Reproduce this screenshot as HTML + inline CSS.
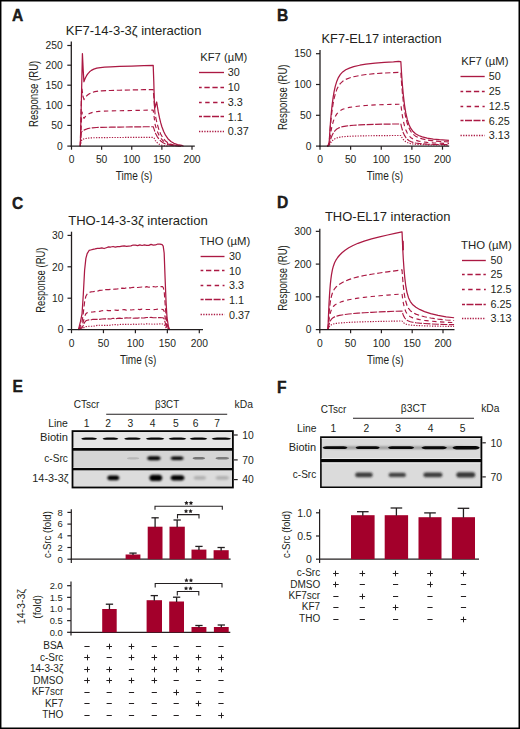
<!DOCTYPE html>
<html><head><meta charset="utf-8"><title>Figure</title>
<style>html,body{margin:0;padding:0;background:#fff;width:520px;height:729px;overflow:hidden}svg{display:block}text{font-family:"Liberation Sans",sans-serif}</style>
</head><body>
<svg width="520" height="729" viewBox="0 0 520 729" font-family='&quot;Liberation Sans&quot;, sans-serif' fill="#231f20">
<defs><filter id="bl" x="-50%" y="-100%" width="200%" height="300%"><feGaussianBlur stdDeviation="0.7"/></filter><filter id="bl15" x="-50%" y="-100%" width="200%" height="300%"><feGaussianBlur stdDeviation="0.9"/></filter><filter id="bl2" x="-50%" y="-100%" width="200%" height="300%"><feGaussianBlur stdDeviation="1.1"/></filter><linearGradient id="gF1" x1="0" x2="1" y1="0" y2="0"><stop offset="0" stop-color="#dadada"/><stop offset="1" stop-color="#dadada"/></linearGradient></defs>
<rect x="0" y="0" width="520" height="729" fill="#fff"/>
<text x="12" y="20.8" font-size="15.6" font-weight="bold" stroke="#000" stroke-width="0.35">A</text>
<text x="65.8" y="35" font-size="13" textLength="135.6" lengthAdjust="spacingAndGlyphs">KF7-14-3-3ζ interaction</text>
<text x="115.8" y="180.4" font-size="12.4" textLength="36.6" lengthAdjust="spacingAndGlyphs">Time (s)</text>
<text x="38.4" y="93.85" font-size="12.8" text-anchor="middle" textLength="66.3" lengthAdjust="spacingAndGlyphs" transform="rotate(-90 38.4 93.85)" fill="#231f20">Response (RU)</text>
<text x="200.3" y="61" font-size="11.6" textLength="46.9" lengthAdjust="spacingAndGlyphs">KF7 (µM)</text>
<line x1="199" y1="72.5" x2="224" y2="72.5" stroke="#ab1943" stroke-width="1.35"/>
<text x="227.8" y="76.4" font-size="10.8">30</text>
<line x1="199" y1="87.5" x2="224" y2="87.5" stroke="#ab1943" stroke-width="1.45" stroke-dasharray="5.3 2.7" stroke-dashoffset="2.6"/>
<text x="227.8" y="91.2" font-size="10.8">10</text>
<line x1="199" y1="102.5" x2="224" y2="102.5" stroke="#ab1943" stroke-width="1.35" stroke-dasharray="4.4 3.5" stroke-dashoffset="1.7"/>
<text x="227.8" y="105.9" font-size="10.8">3.3</text>
<line x1="199" y1="116.5" x2="224" y2="116.5" stroke="#ab1943" stroke-width="1.5" stroke-dasharray="7 1.5" stroke-dashoffset="4"/>
<text x="227.8" y="120.5" font-size="10.8">1.1</text>
<line x1="199" y1="131.5" x2="224" y2="131.5" stroke="#ab1943" stroke-width="1.6" stroke-dasharray="1.3 1.34" stroke-dashoffset="0"/>
<text x="227.8" y="135.3" font-size="10.8">0.37</text>
<path d="M80.3 146.2 L81.44 97.86 L82.41 53.56 L83.19 69.67 L83.91 81.75 L84.45 80.23 L85.36 78.04 L86.56 75.68 L87.77 73.84 L89.58 71.8 L91.38 70.37 L93.79 69.11 L96.81 68.17 L100.42 67.54 L104.64 67.14 L110.66 66.81 L119.7 66.47 L131.75 66.08 L143.8 65.69 L153.2 65.39 L153.8 81.75 L154.34 101.89 L154.65 108.42 L155.25 106.73 L156.09 103.5 L156.69 102.01 L157.36 106.41 L158.26 111.7 L159.47 117.69 L160.67 122.63 L161.88 126.72 L163.68 131.56 L165.49 135.2 L167.9 138.68 L170.91 141.53 L173.93 143.3 L177.54 144.56 L181.76 145.36 L183.56 146.2" fill="none" stroke="#ab1943" stroke-width="1.25" stroke-linejoin="round"/>
<path d="M80.3 146.2 L81.32 101.89 L81.98 89 L82.95 95.85 L83.97 99.6 L84.57 98.57 L85.48 97.26 L86.38 96.16 L87.59 94.98 L89.39 93.67 L91.8 92.52 L94.82 91.67 L99.03 91.05 L101.62 90.84 L110.66 90.45 L119.7 90.22 L131.75 89.95 L143.8 89.69 L153.2 89.48 L154.16 101.53 L155.01 113.57 L155.85 118.04 L157.06 123.39 L158.86 129.57 L160.67 134.07 L163.08 138.24 L165.49 140.97 L167.9 142.77 L171.51 144.38 L175.13 145.23 L178.75 145.68 L181.16 146.2" fill="none" stroke="#ab1943" stroke-width="1.15" stroke-linejoin="round" stroke-dasharray="5.3 2.7"/>
<path d="M80.3 146.2 L81.32 122.03 L82.04 111.96 L82.95 115.59 L83.97 118.41 L84.57 117.57 L85.48 116.49 L86.38 115.59 L87.59 114.62 L89.39 113.54 L91.8 112.6 L94.82 111.9 L99.03 111.39 L101.62 111.21 L110.66 110.9 L119.7 110.71 L131.75 110.49 L143.8 110.27 L153.2 110.1 L154.16 117.08 L155.01 124.05 L155.85 127.08 L157.06 130.71 L158.86 134.91 L160.67 137.96 L163.08 140.79 L165.49 142.65 L167.9 143.87 L171.51 144.96 L175.13 145.54 L178.75 145.85 L181.16 146.2" fill="none" stroke="#ab1943" stroke-width="1.15" stroke-linejoin="round" stroke-dasharray="4.4 3.5"/>
<path d="M80.3 146.2 L80.9 136.13 L81.44 132.1 L82.04 131.55 L82.95 130.84 L83.85 130.25 L85.06 129.62 L86.86 128.91 L89.27 128.3 L92.29 127.84 L96.5 127.51 L101.62 127.32 L110.66 127.17 L119.7 127.06 L131.75 126.93 L143.8 126.8 L153.2 126.7 L154.16 129.4 L155.01 132.1 L155.85 134.03 L157.06 136.34 L158.86 139.01 L160.67 140.96 L163.08 142.76 L165.49 143.94 L167.9 144.72 L171.51 145.41 L175.13 145.78 L178.75 145.98 L181.16 146.2" fill="none" stroke="#ab1943" stroke-width="1.15" stroke-linejoin="round" stroke-dasharray="7 1.5"/>
<path d="M80.3 146.2 L81.26 141.37 L81.98 139.51 L82.59 139.29 L83.49 139.01 L84.39 138.78 L85.6 138.53 L87.41 138.24 L89.82 138 L92.83 137.81 L97.05 137.68 L101.62 137.6 L110.66 137.53 L119.7 137.48 L131.75 137.41 L143.8 137.35 L153.2 137.3 L154.04 138.01 L155.25 140.33 L156.45 142 L158.26 143.65 L160.07 144.65 L161.88 145.26 L164.29 145.72 L166.69 145.95 L169.11 146.2" fill="none" stroke="#ab1943" stroke-width="1.15" stroke-linejoin="round" stroke-dasharray="1.3 1.34"/>
<text x="277" y="21.25" font-size="15.6" font-weight="bold" stroke="#000" stroke-width="0.35">B</text>
<text x="321.6" y="42.7" font-size="13" textLength="120" lengthAdjust="spacingAndGlyphs">KF7-EL17 interaction</text>
<text x="366.8" y="179.8" font-size="12.4" textLength="36.4" lengthAdjust="spacingAndGlyphs">Time (s)</text>
<text x="287.5" y="97.3" font-size="12.8" text-anchor="middle" textLength="65.6" lengthAdjust="spacingAndGlyphs" transform="rotate(-90 287.5 97.3)" fill="#231f20">Response (RU)</text>
<text x="461.2" y="65.4" font-size="11.6" textLength="47.3" lengthAdjust="spacingAndGlyphs">KF7 (µM)</text>
<line x1="460.5" y1="76.5" x2="484.7" y2="76.5" stroke="#ab1943" stroke-width="1.35"/>
<text x="488.8" y="80.3" font-size="10.8">50</text>
<line x1="460.5" y1="91.5" x2="484.7" y2="91.5" stroke="#ab1943" stroke-width="1.45" stroke-dasharray="5.3 2.7" stroke-dashoffset="2.6"/>
<text x="488.8" y="95" font-size="10.8">25</text>
<line x1="460.5" y1="106.5" x2="484.7" y2="106.5" stroke="#ab1943" stroke-width="1.35" stroke-dasharray="4.4 3.5" stroke-dashoffset="1.7"/>
<text x="488.8" y="110" font-size="10.8">12.5</text>
<line x1="460.5" y1="120.5" x2="484.7" y2="120.5" stroke="#ab1943" stroke-width="1.5" stroke-dasharray="7 1.5" stroke-dashoffset="4"/>
<text x="488.8" y="124.6" font-size="10.8">6.25</text>
<line x1="460.5" y1="135.5" x2="484.7" y2="135.5" stroke="#ab1943" stroke-width="1.6" stroke-dasharray="1.3 1.34" stroke-dashoffset="0"/>
<text x="488.8" y="138.9" font-size="10.8">3.13</text>
<path d="M327.04 146.1 L327.66 145.8 L328.15 145.12 L328.57 144.21 L329.19 142.4 L329.8 132.08 L330.41 123.29 L331.02 115.78 L331.64 109.37 L332.25 103.89 L333.17 97.1 L334.09 91.7 L335.31 86.15 L336.84 81.14 L338.38 77.59 L340.21 74.59 L342.66 71.93 L345.73 69.78 L349.4 68.07 L353.69 66.67 L359.81 65.24 L365.94 64.2 L375.12 63.12 L384.31 62.41 L393.5 61.95 L398.4 61.28 L400.85 61.7 L401.46 72.04 L402.38 84.79 L403.3 94.86 L404.52 105.11 L405.75 112.68 L407.28 119.47 L408.81 124.22 L410.65 128.15 L413.1 131.53 L415.55 133.7 L418.61 135.46 L422.29 136.85 L427.19 138.07 L433.31 139.06 L439.44 139.7 L445.56 140.12 L448.93 140.29" fill="none" stroke="#ab1943" stroke-width="1.25" stroke-linejoin="round"/>
<path d="M327.04 146.1 L327.66 145.84 L328.15 145.25 L328.57 144.45 L329.19 142.87 L329.8 133.85 L330.41 126.17 L331.02 119.61 L331.64 114.01 L332.25 109.22 L333.17 103.29 L334.09 98.58 L335.31 93.73 L336.84 89.35 L338.38 86.24 L340.21 83.63 L342.66 81.3 L345.73 79.42 L349.4 77.93 L353.69 76.71 L359.81 75.46 L365.94 74.55 L375.12 73.6 L384.31 72.99 L393.5 72.58 L398.4 72.43 L400.85 72.37 L401.46 81.54 L402.38 92.84 L403.3 101.77 L404.52 110.86 L405.75 117.56 L407.28 123.57 L408.81 127.77 L410.65 131.25 L413.1 134.24 L415.55 136.14 L418.61 137.69 L422.29 138.91 L427.19 139.98 L433.31 140.84 L439.44 141.4 L445.56 141.77 L448.93 141.92" fill="none" stroke="#ab1943" stroke-width="1.15" stroke-linejoin="round" stroke-dasharray="5.3 2.7"/>
<path d="M327.04 146.1 L327.66 145.95 L328.15 145.62 L328.57 145.16 L329.19 144.27 L329.8 139.15 L330.41 134.78 L331.02 131.06 L331.64 127.88 L332.25 125.16 L333.17 121.8 L334.09 119.12 L335.31 116.37 L336.84 113.88 L338.38 112.12 L340.21 110.63 L342.66 109.31 L345.73 108.25 L349.4 107.4 L353.69 106.71 L359.81 106 L365.94 105.48 L375.12 104.94 L384.31 104.59 L393.5 104.36 L398.4 104.28 L400.85 104.24 L401.46 109.41 L402.38 115.78 L403.3 120.81 L404.52 125.93 L405.75 129.71 L407.28 133.1 L408.81 135.47 L410.65 137.43 L413.1 139.12 L415.55 140.2 L418.61 141.08 L422.29 141.77 L427.19 142.37 L433.31 142.86 L439.44 143.18 L445.56 143.39 L448.93 143.48" fill="none" stroke="#ab1943" stroke-width="1.15" stroke-linejoin="round" stroke-dasharray="4.4 3.5"/>
<path d="M327.04 146.1 L327.66 146.02 L328.15 145.84 L328.57 145.61 L329.19 145.13 L329.8 142.42 L330.41 140.12 L331.02 138.15 L331.64 136.47 L332.25 135.03 L333.17 133.25 L334.09 131.84 L335.31 130.38 L336.84 129.06 L338.38 128.13 L340.21 127.35 L342.66 126.65 L345.73 126.09 L349.4 125.64 L353.69 125.27 L359.81 124.9 L365.94 124.62 L375.12 124.34 L384.31 124.15 L393.5 124.03 L398.4 123.99 L400.85 123.97 L401.46 126.7 L402.38 130.06 L403.3 132.71 L404.52 135.42 L405.75 137.42 L407.28 139.21 L408.81 140.46 L410.65 141.49 L413.1 142.39 L415.55 142.95 L418.61 143.42 L422.29 143.78 L427.19 144.1 L433.31 144.36 L439.44 144.53 L445.56 144.64 L448.93 144.69" fill="none" stroke="#ab1943" stroke-width="1.15" stroke-linejoin="round" stroke-dasharray="7 1.5"/>
<path d="M327.04 146.1 L327.66 146.06 L328.15 145.98 L328.57 145.86 L329.19 145.64 L329.8 144.34 L330.41 143.23 L331.02 142.29 L331.64 141.49 L332.25 140.8 L333.17 139.94 L334.09 139.27 L335.31 138.57 L336.84 137.94 L338.38 137.49 L340.21 137.12 L342.66 136.78 L345.73 136.51 L349.4 136.3 L353.69 136.12 L359.81 135.94 L365.94 135.81 L375.12 135.67 L384.31 135.59 L393.5 135.53 L398.4 135.51 L400.85 135.5 L401.46 136.75 L402.38 138.3 L403.3 139.52 L404.52 140.77 L405.75 141.69 L407.28 142.52 L408.81 143.1 L410.65 143.58 L413.1 144 L415.55 144.27 L418.61 144.48 L422.29 144.66 L427.19 144.81 L433.31 144.93 L439.44 145.01 L445.56 145.07 L448.93 145.09" fill="none" stroke="#ab1943" stroke-width="1.15" stroke-linejoin="round" stroke-dasharray="1.3 1.34"/>
<text x="12" y="208.75" font-size="15.6" font-weight="bold" stroke="#000" stroke-width="0.35">C</text>
<text x="68.2" y="224.6" font-size="13" textLength="139.5" lengthAdjust="spacingAndGlyphs">THO-14-3-3ζ interaction</text>
<text x="119.9" y="364.2" font-size="12.4" textLength="36.4" lengthAdjust="spacingAndGlyphs">Time (s)</text>
<text x="45.2" y="280.15" font-size="12.8" text-anchor="middle" textLength="65.3" lengthAdjust="spacingAndGlyphs" transform="rotate(-90 45.2 280.15)" fill="#231f20">Response (RU)</text>
<text x="199.6" y="244.9" font-size="11.6" textLength="50.6" lengthAdjust="spacingAndGlyphs">THO (µM)</text>
<line x1="200.6" y1="256.5" x2="224.5" y2="256.5" stroke="#ab1943" stroke-width="1.35"/>
<text x="228.9" y="260" font-size="10.8">30</text>
<line x1="200.6" y1="270.5" x2="224.5" y2="270.5" stroke="#ab1943" stroke-width="1.45" stroke-dasharray="5.3 2.7" stroke-dashoffset="2.6"/>
<text x="228.9" y="274.6" font-size="10.8">10</text>
<line x1="200.6" y1="285.5" x2="224.5" y2="285.5" stroke="#ab1943" stroke-width="1.35" stroke-dasharray="4.4 3.5" stroke-dashoffset="1.7"/>
<text x="228.9" y="289.1" font-size="10.8">3.3</text>
<line x1="200.6" y1="299.5" x2="224.5" y2="299.5" stroke="#ab1943" stroke-width="1.5" stroke-dasharray="7 1.5" stroke-dashoffset="4"/>
<text x="228.9" y="303.7" font-size="10.8">1.1</text>
<line x1="200.6" y1="314.5" x2="224.5" y2="314.5" stroke="#ab1943" stroke-width="1.6" stroke-dasharray="1.3 1.34" stroke-dashoffset="0"/>
<text x="228.9" y="318.5" font-size="10.8">0.37</text>
<path d="M78.47 329.6 L80.45 321.69 L82.04 313.77 L83.32 293.99 L84.6 270.25 L85.88 258.38 L87.16 253.64 L89.07 250.47 L90.67 250.01 L92.91 249.44 L95.14 248.98 L97.38 248.45 L99.62 248.33 L101.85 247.8 L104.09 248.5 L106.33 247.73 L108.56 246.93 L110.8 247.01 L113.03 246.5 L115.27 247.18 L117.51 246.58 L119.74 246.64 L121.98 246.13 L124.22 245.94 L126.45 246.42 L128.69 246.05 L130.93 245.85 L133.16 245.01 L135.4 245.07 L137.64 245.65 L139.87 244.83 L142.11 245.48 L144.35 244.85 L146.58 245.33 L148.82 245.39 L151.06 244.34 L153.29 245.03 L155.53 244.96 L157.76 244.03 L160 244.11 L162.24 244.72 L163.2 246.21 L164.16 253.02 L165.11 278.54 L166.07 302.37 L167.03 317.69 L168.31 326.2 L169.59 329.6" fill="none" stroke="#ab1943" stroke-width="1.25" stroke-linejoin="round"/>
<path d="M78.47 329.6 L80.45 325.89 L82.04 322.19 L83.32 312.93 L84.6 301.81 L85.88 296.25 L87.16 294.03 L89.07 292.55 L90.67 291.91 L92.91 291.77 L95.14 291.27 L97.38 291.22 L99.62 290.37 L101.85 290.22 L104.09 289.73 L106.33 289.5 L108.56 289.64 L110.8 289.35 L113.03 289.26 L115.27 289.06 L117.51 288.91 L119.74 288.57 L121.98 288.19 L124.22 288.44 L126.45 287.83 L128.69 287.92 L130.93 287.81 L133.16 287.34 L135.4 287.46 L137.64 287.46 L139.87 287.25 L142.11 287.01 L144.35 287.36 L146.58 286.66 L148.82 287.23 L151.06 286.67 L153.29 286.54 L155.53 287.04 L157.76 286.46 L160 286.69 L162.24 286.5 L163.2 287.44 L164.16 290.88 L165.11 303.79 L166.07 315.83 L167.03 323.58 L168.31 327.88 L169.59 329.6" fill="none" stroke="#ab1943" stroke-width="1.15" stroke-linejoin="round" stroke-dasharray="5.3 2.7"/>
<path d="M78.47 329.6 L80.45 327.84 L82.04 326.08 L83.32 321.69 L84.6 316.41 L85.88 313.77 L87.16 312.72 L89.07 312.02 L90.67 312.19 L92.91 311.97 L95.14 311.69 L97.38 310.98 L99.62 311.33 L101.85 310.8 L104.09 310.54 L106.33 310.4 L108.56 310.68 L110.8 310.56 L113.03 310.33 L115.27 310.06 L117.51 310.42 L119.74 309.9 L121.98 309.78 L124.22 309.66 L126.45 310.15 L128.69 309.47 L130.93 309.99 L133.16 309.76 L135.4 309.52 L137.64 309.26 L139.87 309.61 L142.11 309.17 L144.35 309.39 L146.58 309.51 L148.82 309.47 L151.06 309.53 L153.29 309.57 L155.53 309.49 L157.76 309.1 L160 308.86 L162.24 309.41 L163.2 309.6 L164.16 311.23 L165.11 317.35 L166.07 323.07 L167.03 326.74 L168.31 328.78 L169.59 329.6" fill="none" stroke="#ab1943" stroke-width="1.15" stroke-linejoin="round" stroke-dasharray="4.4 3.5"/>
<path d="M78.47 329.6 L80.45 328.63 L82.04 327.65 L83.32 325.22 L84.6 322.3 L85.88 320.84 L87.16 320.26 L89.07 319.87 L90.67 320.05 L92.91 319.26 L95.14 319.42 L97.38 319.37 L99.62 319.35 L101.85 318.99 L104.09 318.72 L106.33 318.87 L108.56 318.8 L110.8 318.96 L113.03 318.29 L115.27 318.81 L117.51 318.42 L119.74 318.12 L121.98 318.54 L124.22 318.07 L126.45 317.87 L128.69 318.03 L130.93 317.88 L133.16 318.29 L135.4 318.03 L137.64 318.18 L139.87 317.68 L142.11 318.02 L144.35 317.88 L146.58 317.48 L148.82 317.55 L151.06 317.44 L153.29 317.77 L155.53 317.72 L157.76 317.54 L160 317.69 L162.24 317.8 L163.2 317.91 L164.16 318.86 L165.11 322.44 L166.07 325.78 L167.03 327.93 L168.31 329.12 L169.59 329.6" fill="none" stroke="#ab1943" stroke-width="1.15" stroke-linejoin="round" stroke-dasharray="7 1.5"/>
<path d="M78.47 329.6 L80.45 329.27 L82.04 328.94 L83.32 328.12 L84.6 327.13 L85.88 326.63 L87.16 326.43 L89.07 326.3 L90.67 326.24 L92.91 326.25 L95.14 325.93 L97.38 325.37 L99.62 325.25 L101.85 325.35 L104.09 325.32 L106.33 325.31 L108.56 325.38 L110.8 325.16 L113.03 324.72 L115.27 324.58 L117.51 324.85 L119.74 324.48 L121.98 324.42 L124.22 324.41 L126.45 324.38 L128.69 324.26 L130.93 324.47 L133.16 324.19 L135.4 324.44 L137.64 324.26 L139.87 324.02 L142.11 324.04 L144.35 324.28 L146.58 323.8 L148.82 323.97 L151.06 323.99 L153.29 324.35 L155.53 323.97 L157.76 324.15 L160 323.84 L162.24 323.96 L163.2 324.06 L164.16 324.51 L165.11 326.21 L166.07 327.79 L167.03 328.81 L168.31 329.37 L169.59 329.6" fill="none" stroke="#ab1943" stroke-width="1.15" stroke-linejoin="round" stroke-dasharray="1.3 1.34"/>
<text x="277" y="208.25" font-size="15.6" font-weight="bold" stroke="#000" stroke-width="0.35">D</text>
<text x="324.9" y="220.5" font-size="13" textLength="125.6" lengthAdjust="spacingAndGlyphs">THO-EL17 interaction</text>
<text x="367" y="364" font-size="12.4" textLength="36.6" lengthAdjust="spacingAndGlyphs">Time (s)</text>
<text x="287.3" y="278" font-size="12.8" text-anchor="middle" textLength="65.5" lengthAdjust="spacingAndGlyphs" transform="rotate(-90 287.3 278)" fill="#231f20">Response (RU)</text>
<text x="461" y="248.9" font-size="11.6" textLength="50.8" lengthAdjust="spacingAndGlyphs">THO (µM)</text>
<line x1="462" y1="260.5" x2="485.8" y2="260.5" stroke="#ab1943" stroke-width="1.35"/>
<text x="490.5" y="264.1" font-size="10.8">50</text>
<line x1="462" y1="274.5" x2="485.8" y2="274.5" stroke="#ab1943" stroke-width="1.45" stroke-dasharray="5.3 2.7" stroke-dashoffset="2.6"/>
<text x="490.5" y="278.4" font-size="10.8">25</text>
<line x1="462" y1="289.5" x2="485.8" y2="289.5" stroke="#ab1943" stroke-width="1.35" stroke-dasharray="4.4 3.5" stroke-dashoffset="1.7"/>
<text x="490.5" y="293.3" font-size="10.8">12.5</text>
<line x1="462" y1="304.5" x2="485.8" y2="304.5" stroke="#ab1943" stroke-width="1.5" stroke-dasharray="7 1.5" stroke-dashoffset="4"/>
<text x="490.5" y="307.8" font-size="10.8">6.25</text>
<line x1="462" y1="318.5" x2="485.8" y2="318.5" stroke="#ab1943" stroke-width="1.6" stroke-dasharray="1.3 1.34" stroke-dashoffset="0"/>
<text x="490.5" y="322.3" font-size="10.8">3.13</text>
<path d="M327.99 329.6 L328.42 316.92 L329.04 302.95 L329.66 292.62 L330.27 284.9 L330.89 279.08 L331.5 274.62 L332.43 269.7 L333.35 266.18 L334.58 262.81 L336.12 259.79 L337.66 257.49 L339.51 255.25 L341.98 252.79 L345.06 250.26 L348.75 247.79 L353.06 245.45 L357.99 243.29 L364.15 241.09 L371.54 238.92 L379.55 236.87 L387.56 235 L394.95 233.35 L402.04 231.81 L402.65 246.71 L403.27 258.44 L404.01 269.31 L404.81 278.12 L405.73 285.54 L406.96 292.31 L408.5 297.68 L410.35 301.6 L412.82 304.76 L415.9 307.27 L419.59 309.43 L424.52 311.62 L430.68 313.69 L438.07 315.48 L446.08 316.83 L454.09 317.75" fill="none" stroke="#ab1943" stroke-width="1.25" stroke-linejoin="round"/>
<path d="M327.99 329.6 L328.42 321.86 L329.04 313.33 L329.66 307.01 L330.27 302.3 L330.89 298.74 L331.5 296.02 L332.43 293.01 L333.35 290.87 L334.58 288.81 L336.12 286.96 L337.66 285.56 L339.51 284.19 L341.98 282.69 L345.06 281.15 L348.75 279.63 L353.06 278.21 L357.99 276.89 L364.15 275.55 L371.54 274.22 L379.55 272.97 L387.56 271.82 L394.95 270.82 L402.04 269.88 L402.65 278.57 L403.27 285.41 L404.01 291.76 L404.81 296.92 L405.73 301.26 L406.96 305.23 L408.5 308.39 L410.35 310.72 L412.82 312.61 L415.9 314.13 L419.59 315.44 L424.52 316.77 L430.68 318.04 L438.07 319.13 L446.08 319.96 L454.09 320.52" fill="none" stroke="#ab1943" stroke-width="1.15" stroke-linejoin="round" stroke-dasharray="5.3 2.7"/>
<path d="M327.99 329.6 L328.42 324.98 L329.04 319.88 L329.66 316.11 L330.27 313.3 L330.89 311.17 L331.5 309.54 L332.43 307.75 L333.35 306.47 L334.58 305.24 L336.12 304.14 L337.66 303.3 L339.51 302.48 L341.98 301.58 L345.06 300.66 L348.75 299.76 L353.06 298.9 L357.99 298.12 L364.15 297.32 L371.54 296.52 L379.55 295.78 L387.56 295.09 L394.95 294.49 L402.04 293.93 L402.65 298.77 L403.27 302.59 L404.01 306.14 L404.81 309.02 L405.73 311.45 L406.96 313.69 L408.5 315.48 L410.35 316.81 L412.82 317.9 L415.9 318.79 L419.59 319.57 L424.52 320.37 L430.68 321.12 L438.07 321.78 L446.08 322.27 L454.09 322.6" fill="none" stroke="#ab1943" stroke-width="1.15" stroke-linejoin="round" stroke-dasharray="4.4 3.5"/>
<path d="M327.99 329.6 L328.42 327.18 L329.04 324.52 L329.66 322.55 L330.27 321.08 L330.89 319.97 L331.5 319.12 L332.43 318.18 L333.35 317.51 L334.58 316.87 L336.12 316.29 L337.66 315.86 L339.51 315.43 L341.98 314.96 L345.06 314.48 L348.75 314.01 L353.06 313.56 L357.99 313.15 L364.15 312.73 L371.54 312.32 L379.55 311.93 L387.56 311.57 L394.95 311.25 L402.04 310.96 L402.65 313.21 L403.27 314.99 L404.01 316.65 L404.81 318 L405.73 319.15 L406.96 320.2 L408.5 321.06 L410.35 321.71 L412.82 322.25 L415.9 322.71 L419.59 323.11 L424.52 323.53 L430.68 323.92 L438.07 324.26 L446.08 324.52 L454.09 324.69" fill="none" stroke="#ab1943" stroke-width="1.15" stroke-linejoin="round" stroke-dasharray="7 1.5"/>
<path d="M327.99 329.6 L328.42 328.48 L329.04 327.25 L329.66 326.34 L330.27 325.66 L330.89 325.14 L331.5 324.75 L332.43 324.31 L333.35 324 L334.58 323.71 L336.12 323.44 L337.66 323.24 L339.51 323.04 L341.98 322.82 L345.06 322.6 L348.75 322.38 L353.06 322.17 L357.99 321.98 L364.15 321.79 L371.54 321.6 L379.55 321.42 L387.56 321.25 L394.95 321.11 L402.04 320.97 L402.65 321.81 L403.27 322.47 L404.01 323.09 L404.81 323.6 L405.73 324.03 L406.96 324.44 L408.5 324.78 L410.35 325.04 L412.82 325.27 L415.9 325.48 L419.59 325.66 L424.52 325.85 L430.68 326.04 L438.07 326.19 L446.08 326.31 L454.09 326.39" fill="none" stroke="#ab1943" stroke-width="1.15" stroke-linejoin="round" stroke-dasharray="1.3 1.34"/>
<line x1="402.9" y1="240.8" x2="403.1" y2="250.3" stroke="#ab1943" stroke-width="1.7"/>
<text x="12.6" y="391.6" font-size="15.6" font-weight="bold" stroke="#000" stroke-width="0.35">E</text>
<text x="73.8" y="408.1" font-size="10.3" textLength="25.6" lengthAdjust="spacingAndGlyphs">CTscr</text>
<text x="155" y="408.2" font-size="10.3" textLength="24.2" lengthAdjust="spacingAndGlyphs">β3CT</text>
<text x="234.6" y="407.7" font-size="10.3" textLength="18.4" lengthAdjust="spacingAndGlyphs">kDa</text>
<line x1="106.2" y1="414.2" x2="227.2" y2="414.2" stroke="#231f20" stroke-width="1.1"/>
<text x="67.9" y="427.4" font-size="10.3" text-anchor="end" textLength="19.7" lengthAdjust="spacingAndGlyphs">Line</text>
<text x="86.7" y="427.2" font-size="10.3" text-anchor="middle">1</text>
<text x="108.2" y="427.2" font-size="10.3" text-anchor="middle">2</text>
<text x="130.4" y="427.2" font-size="10.3" text-anchor="middle">3</text>
<text x="152.5" y="427.2" font-size="10.3" text-anchor="middle">4</text>
<text x="175.9" y="427.2" font-size="10.3" text-anchor="middle">5</text>
<text x="195.6" y="427.2" font-size="10.3" text-anchor="middle">6</text>
<text x="217.2" y="427.2" font-size="10.3" text-anchor="middle">7</text>
<rect x="71.6" y="430.2" width="162.2" height="58.2" fill="#050505"/>
<rect x="73.4" y="432" width="158.6" height="15.9" fill="#e6e6e6"/>
<rect x="73.4" y="450.7" width="158.6" height="17.1" fill="#d5d5d5"/>
<rect x="73.4" y="470.3" width="158.6" height="16.3" fill="#dcdcdc"/>
<rect x="73.4" y="447.1" width="158.6" height="0.7" fill="#f4f4f4"/>
<rect x="73.4" y="467" width="158.6" height="0.7" fill="#f0f0f0"/>
<path d="M81.1 438.7 C82.7 437.55 84.94 437.55 87.5 437.55 L90.7 437.55 C93.26 437.55 95.5 437.55 97.1 438.7 C95.5 439.85 93.26 439.85 90.7 439.85 L87.5 439.85 C84.94 439.85 82.7 439.85 81.1 438.7 Z" fill="#000" fill-opacity="0.97" filter="url(#bl)"/>
<path d="M102.5 438.7 C104.09 437.55 106.32 437.55 108.86 437.55 L112.04 437.55 C114.58 437.55 116.81 437.55 118.4 438.7 C116.81 439.85 114.58 439.85 112.04 439.85 L108.86 439.85 C106.32 439.85 104.09 439.85 102.5 438.7 Z" fill="#000" fill-opacity="0.97" filter="url(#bl)"/>
<path d="M124.1 438.7 C125.78 437.55 128.13 437.55 130.82 437.55 L134.18 437.55 C136.87 437.55 139.22 437.55 140.9 438.7 C139.22 439.85 136.87 439.85 134.18 439.85 L130.82 439.85 C128.13 439.85 125.78 439.85 124.1 438.7 Z" fill="#000" fill-opacity="0.97" filter="url(#bl)"/>
<path d="M145.8 438.7 C147.66 437.55 150.26 437.55 153.24 437.55 L156.96 437.55 C159.94 437.55 162.54 437.55 164.4 438.7 C162.54 439.85 159.94 439.85 156.96 439.85 L153.24 439.85 C150.26 439.85 147.66 439.85 145.8 438.7 Z" fill="#000" fill-opacity="0.97" filter="url(#bl)"/>
<path d="M168.6 438.7 C170.37 437.55 172.85 437.55 175.68 437.55 L179.22 437.55 C182.05 437.55 184.53 437.55 186.3 438.7 C184.53 439.85 182.05 439.85 179.22 439.85 L175.68 439.85 C172.85 439.85 170.37 439.85 168.6 438.7 Z" fill="#000" fill-opacity="0.97" filter="url(#bl)"/>
<path d="M189.7 438.7 C191.46 437.55 193.92 437.55 196.74 437.55 L200.26 437.55 C203.08 437.55 205.54 437.55 207.3 438.7 C205.54 439.85 203.08 439.85 200.26 439.85 L196.74 439.85 C193.92 439.85 191.46 439.85 189.7 438.7 Z" fill="#000" fill-opacity="0.97" filter="url(#bl)"/>
<path d="M211.6 438.7 C213.55 437.55 216.28 437.55 219.4 437.55 L223.3 437.55 C226.42 437.55 229.15 437.55 231.1 438.7 C229.15 439.85 226.42 439.85 223.3 439.85 L219.4 439.85 C216.28 439.85 213.55 439.85 211.6 438.7 Z" fill="#000" fill-opacity="0.97" filter="url(#bl)"/>
<path d="M126.8 458.3 C127.75 457.2 129.07 457.2 130.58 457.2 L135.62 457.2 C137.13 457.2 138.46 457.2 139.4 458.3 C138.46 459.4 137.13 459.4 135.62 459.4 L130.58 459.4 C129.07 459.4 127.75 459.4 126.8 458.3 Z" fill="#000" fill-opacity="0.14" filter="url(#bl)"/>
<path d="M147 458.3 C148.03 456.25 149.48 456.25 151.14 456.25 L156.66 456.25 C158.32 456.25 159.76 456.25 160.8 458.3 C159.76 460.35 158.32 460.35 156.66 460.35 L151.14 460.35 C149.48 460.35 148.03 460.35 147 458.3 Z" fill="#000" fill-opacity="1" filter="url(#bl15)"/>
<path d="M170.4 458.3 C171.41 456.5 172.81 456.5 174.42 456.5 L179.78 456.5 C181.39 456.5 182.79 456.5 183.8 458.3 C182.79 460.1 181.39 460.1 179.78 460.1 L174.42 460.1 C172.81 460.1 171.41 460.1 170.4 458.3 Z" fill="#000" fill-opacity="1" filter="url(#bl15)"/>
<path d="M192.5 458.3 C193.45 457.1 194.79 457.1 196.31 457.1 L201.39 457.1 C202.91 457.1 204.25 457.1 205.2 458.3 C204.25 459.5 202.91 459.5 201.39 459.5 L196.31 459.5 C194.79 459.5 193.45 459.5 192.5 458.3 Z" fill="#000" fill-opacity="0.45" filter="url(#bl)"/>
<path d="M215.4 458.3 C216.44 457.1 217.88 457.1 219.54 457.1 L225.06 457.1 C226.72 457.1 228.17 457.1 229.2 458.3 C228.17 459.5 226.72 459.5 225.06 459.5 L219.54 459.5 C217.88 459.5 216.44 459.5 215.4 458.3 Z" fill="#000" fill-opacity="0.42" filter="url(#bl)"/>
<path d="M107.1 477.9 C108.03 475.6 109.33 475.6 110.82 475.6 L115.78 475.6 C117.27 475.6 118.57 475.6 119.5 477.9 C118.57 480.2 117.27 480.2 115.78 480.2 L110.82 480.2 C109.33 480.2 108.03 480.2 107.1 477.9 Z" fill="#000" fill-opacity="1" filter="url(#bl15)"/>
<path d="M149.2 477.9 C150.19 474.8 151.58 474.8 153.16 474.8 L158.44 474.8 C160.02 474.8 161.41 474.8 162.4 477.9 C161.41 481 160.02 481 158.44 481 L153.16 481 C151.58 481 150.19 481 149.2 477.9 Z" fill="#000" fill-opacity="1" filter="url(#bl15)"/>
<path d="M170.4 477.9 C171.47 475.3 172.96 475.3 174.66 475.3 L180.34 475.3 C182.04 475.3 183.53 475.3 184.6 477.9 C183.53 480.5 182.04 480.5 180.34 480.5 L174.66 480.5 C172.96 480.5 171.47 480.5 170.4 477.9 Z" fill="#000" fill-opacity="1" filter="url(#bl15)"/>
<path d="M193.4 477.9 C194.37 476.1 195.72 476.1 197.27 476.1 L202.43 476.1 C203.98 476.1 205.33 476.1 206.3 477.9 C205.33 479.7 203.98 479.7 202.43 479.7 L197.27 479.7 C195.72 479.7 194.37 479.7 193.4 477.9 Z" fill="#000" fill-opacity="0.2" filter="url(#bl2)"/>
<path d="M215.4 477.9 C216.44 476.1 217.88 476.1 219.54 476.1 L225.06 476.1 C226.72 476.1 228.17 476.1 229.2 477.9 C228.17 479.7 226.72 479.7 225.06 479.7 L219.54 479.7 C217.88 479.7 216.44 479.7 215.4 477.9 Z" fill="#000" fill-opacity="0.2" filter="url(#bl2)"/>
<text x="67.9" y="441.2" font-size="10.3" text-anchor="end" textLength="27.9" lengthAdjust="spacingAndGlyphs">Biotin</text>
<text x="67.9" y="461.5" font-size="10.3" text-anchor="end" textLength="23.6" lengthAdjust="spacingAndGlyphs">c-Src</text>
<text x="68.5" y="481.5" font-size="10.3" text-anchor="end" textLength="36.2" lengthAdjust="spacingAndGlyphs">14-3-3ζ</text>
<line x1="234" y1="435" x2="237.7" y2="435" stroke="#231f20" stroke-width="1.2"/>
<text x="242.3" y="438.8" font-size="10.5" textLength="11.5" lengthAdjust="spacingAndGlyphs">10</text>
<line x1="234" y1="459.9" x2="237.7" y2="459.9" stroke="#231f20" stroke-width="1.2"/>
<text x="242.3" y="463.7" font-size="10.5" textLength="11.5" lengthAdjust="spacingAndGlyphs">70</text>
<line x1="234" y1="479.6" x2="237.7" y2="479.6" stroke="#231f20" stroke-width="1.2"/>
<text x="242.3" y="483.4" font-size="10.5" textLength="11.5" lengthAdjust="spacingAndGlyphs">40</text>
<line x1="71.3" y1="509.3" x2="71.3" y2="563" stroke="#231f20" stroke-width="1.2"/>
<line x1="70.7" y1="559.2" x2="230.6" y2="559.2" stroke="#231f20" stroke-width="1.3"/>
<line x1="67.4" y1="547.5" x2="71.3" y2="547.5" stroke="#231f20" stroke-width="1.2"/>
<line x1="67.4" y1="535.8" x2="71.3" y2="535.8" stroke="#231f20" stroke-width="1.2"/>
<line x1="67.4" y1="524.1" x2="71.3" y2="524.1" stroke="#231f20" stroke-width="1.2"/>
<line x1="67.4" y1="512.4" x2="71.3" y2="512.4" stroke="#231f20" stroke-width="1.2"/>
<text x="62.6" y="562.5" font-size="9.4" text-anchor="end">0</text>
<text x="62.6" y="550.8" font-size="9.4" text-anchor="end">2</text>
<text x="62.6" y="539.1" font-size="9.4" text-anchor="end">4</text>
<text x="62.6" y="527.4" font-size="9.4" text-anchor="end">6</text>
<text x="62.6" y="515.7" font-size="9.4" text-anchor="end">8</text>
<line x1="67.4" y1="559.2" x2="71.3" y2="559.2" stroke="#231f20" stroke-width="1.2"/>
<text x="50.7" y="534.6" font-size="11.3" text-anchor="middle" textLength="47" lengthAdjust="spacingAndGlyphs" transform="rotate(-90 50.7 534.6)" fill="#231f20">c-Src (fold)</text>
<rect x="125.6" y="554.5" width="14.8" height="4.7" fill="#a3002b"/>
<line x1="133" y1="555" x2="133" y2="553.1" stroke="#231f20" stroke-width="1.3"/>
<line x1="129.35" y1="553.1" x2="136.65" y2="553.1" stroke="#231f20" stroke-width="1.3"/>
<rect x="147.7" y="526.7" width="14.8" height="32.5" fill="#a3002b"/>
<line x1="155.1" y1="527.2" x2="155.1" y2="517.8" stroke="#231f20" stroke-width="1.3"/>
<line x1="151.45" y1="517.8" x2="158.75" y2="517.8" stroke="#231f20" stroke-width="1.3"/>
<rect x="169.5" y="526.7" width="15.3" height="32.5" fill="#a3002b"/>
<line x1="177.15" y1="527.2" x2="177.15" y2="520" stroke="#231f20" stroke-width="1.3"/>
<line x1="173.5" y1="520" x2="180.8" y2="520" stroke="#231f20" stroke-width="1.3"/>
<rect x="191.5" y="549.6" width="14.9" height="9.6" fill="#a3002b"/>
<line x1="198.95" y1="550.1" x2="198.95" y2="546.4" stroke="#231f20" stroke-width="1.3"/>
<line x1="195.3" y1="546.4" x2="202.6" y2="546.4" stroke="#231f20" stroke-width="1.3"/>
<rect x="213.6" y="550.2" width="15.1" height="9" fill="#a3002b"/>
<line x1="221.15" y1="550.7" x2="221.15" y2="547.5" stroke="#231f20" stroke-width="1.3"/>
<line x1="217.5" y1="547.5" x2="224.8" y2="547.5" stroke="#231f20" stroke-width="1.3"/>
<path d="M155 509.8 V506.3 H222.3 V509.8" fill="none" stroke="#231f20" stroke-width="1.1"/>
<polygon points="186.45,500.75 187.13,502.12 188.64,502.34 187.54,503.41 187.8,504.91 186.45,504.2 185.1,504.91 185.36,503.41 184.26,502.34 185.77,502.12" fill="#231f20"/>
<polygon points="190.95,500.75 191.63,502.12 193.14,502.34 192.04,503.41 192.3,504.91 190.95,504.2 189.6,504.91 189.86,503.41 188.76,502.34 190.27,502.12" fill="#231f20"/>
<path d="M177.5 518.4 V514.6 H199 V518.4" fill="none" stroke="#231f20" stroke-width="1.1"/>
<polygon points="186.05,508.95 186.73,510.32 188.24,510.54 187.14,511.61 187.4,513.11 186.05,512.4 184.7,513.11 184.96,511.61 183.86,510.54 185.37,510.32" fill="#231f20"/>
<polygon points="190.55,508.95 191.23,510.32 192.74,510.54 191.64,511.61 191.9,513.11 190.55,512.4 189.2,513.11 189.46,511.61 188.36,510.54 189.87,510.32" fill="#231f20"/>
<line x1="71" y1="581.5" x2="71" y2="635.5" stroke="#231f20" stroke-width="1.2"/>
<line x1="70.4" y1="632.3" x2="230.3" y2="632.3" stroke="#231f20" stroke-width="1.3"/>
<line x1="67.1" y1="632.3" x2="71" y2="632.3" stroke="#231f20" stroke-width="1.2"/>
<text x="62.7" y="635.6" font-size="9.4" text-anchor="end">0.0</text>
<line x1="67.1" y1="620.65" x2="71" y2="620.65" stroke="#231f20" stroke-width="1.2"/>
<text x="62.7" y="623.95" font-size="9.4" text-anchor="end">0.5</text>
<line x1="67.1" y1="609" x2="71" y2="609" stroke="#231f20" stroke-width="1.2"/>
<text x="62.7" y="612.3" font-size="9.4" text-anchor="end">1.0</text>
<line x1="67.1" y1="597.35" x2="71" y2="597.35" stroke="#231f20" stroke-width="1.2"/>
<text x="62.7" y="600.65" font-size="9.4" text-anchor="end">1.5</text>
<line x1="67.1" y1="585.7" x2="71" y2="585.7" stroke="#231f20" stroke-width="1.2"/>
<text x="62.7" y="589" font-size="9.4" text-anchor="end">2.0</text>
<text x="24.9" y="606.6" font-size="11.5" text-anchor="middle" textLength="35.3" lengthAdjust="spacingAndGlyphs" transform="rotate(-90 24.9 606.6)" fill="#231f20">14-3-3ζ</text>
<text x="41.4" y="606.9" font-size="11.8" text-anchor="middle" textLength="23.9" lengthAdjust="spacingAndGlyphs" transform="rotate(-90 41.4 606.9)" fill="#231f20">(fold)</text>
<rect x="102.2" y="609" width="14.5" height="23.3" fill="#a3002b"/>
<line x1="109.45" y1="609.5" x2="109.45" y2="604.2" stroke="#231f20" stroke-width="1.3"/>
<line x1="105.8" y1="604.2" x2="113.1" y2="604.2" stroke="#231f20" stroke-width="1.3"/>
<rect x="146.6" y="600.2" width="15.4" height="32.1" fill="#a3002b"/>
<line x1="154.3" y1="600.7" x2="154.3" y2="595.6" stroke="#231f20" stroke-width="1.3"/>
<line x1="150.65" y1="595.6" x2="157.95" y2="595.6" stroke="#231f20" stroke-width="1.3"/>
<rect x="169.2" y="601.5" width="14.8" height="30.8" fill="#a3002b"/>
<line x1="176.6" y1="602" x2="176.6" y2="597.2" stroke="#231f20" stroke-width="1.3"/>
<line x1="172.95" y1="597.2" x2="180.25" y2="597.2" stroke="#231f20" stroke-width="1.3"/>
<rect x="191.5" y="627" width="14.9" height="5.3" fill="#a3002b"/>
<line x1="198.95" y1="627.5" x2="198.95" y2="625.5" stroke="#231f20" stroke-width="1.3"/>
<line x1="195.3" y1="625.5" x2="202.6" y2="625.5" stroke="#231f20" stroke-width="1.3"/>
<rect x="213.9" y="627" width="14.8" height="5.3" fill="#a3002b"/>
<line x1="221.3" y1="627.5" x2="221.3" y2="625" stroke="#231f20" stroke-width="1.3"/>
<line x1="217.65" y1="625" x2="224.95" y2="625" stroke="#231f20" stroke-width="1.3"/>
<path d="M155.2 587.5 V583.5 H222 V587.5" fill="none" stroke="#231f20" stroke-width="1.1"/>
<polygon points="186.45,578.05 187.13,579.42 188.64,579.64 187.54,580.71 187.8,582.21 186.45,581.5 185.1,582.21 185.36,580.71 184.26,579.64 185.77,579.42" fill="#231f20"/>
<polygon points="190.95,578.05 191.63,579.42 193.14,579.64 192.04,580.71 192.3,582.21 190.95,581.5 189.6,582.21 189.86,580.71 188.76,579.64 190.27,579.42" fill="#231f20"/>
<path d="M177.3 595.6 V591.5 H198.8 V595.6" fill="none" stroke="#231f20" stroke-width="1.1"/>
<polygon points="186.05,586.15 186.73,587.52 188.24,587.74 187.14,588.81 187.4,590.31 186.05,589.6 184.7,590.31 184.96,588.81 183.86,587.74 185.37,587.52" fill="#231f20"/>
<polygon points="190.55,586.15 191.23,587.52 192.74,587.74 191.64,588.81 191.9,590.31 190.55,589.6 189.2,590.31 189.46,588.81 188.36,587.74 189.87,587.52" fill="#231f20"/>
<text x="63.3" y="649" font-size="10" text-anchor="end">BSA</text>
<line x1="84.4" y1="646.5" x2="89.6" y2="646.5" stroke="#231f20" stroke-width="1"/>
<line x1="106.4" y1="646.5" x2="112" y2="646.5" stroke="#231f20" stroke-width="1"/>
<line x1="109.5" y1="643.7" x2="109.5" y2="649.3" stroke="#231f20" stroke-width="1"/>
<line x1="128.7" y1="646.5" x2="134.3" y2="646.5" stroke="#231f20" stroke-width="1"/>
<line x1="131.5" y1="643.7" x2="131.5" y2="649.3" stroke="#231f20" stroke-width="1"/>
<line x1="151.7" y1="646.5" x2="156.9" y2="646.5" stroke="#231f20" stroke-width="1"/>
<line x1="173.6" y1="646.5" x2="178.8" y2="646.5" stroke="#231f20" stroke-width="1"/>
<line x1="195.9" y1="646.5" x2="201.1" y2="646.5" stroke="#231f20" stroke-width="1"/>
<line x1="218.4" y1="646.5" x2="223.6" y2="646.5" stroke="#231f20" stroke-width="1"/>
<text x="63.3" y="660.54" font-size="10" text-anchor="end">c-Src</text>
<line x1="84.2" y1="657.5" x2="89.8" y2="657.5" stroke="#231f20" stroke-width="1"/>
<line x1="87.5" y1="654.7" x2="87.5" y2="660.3" stroke="#231f20" stroke-width="1"/>
<line x1="106.6" y1="657.5" x2="111.8" y2="657.5" stroke="#231f20" stroke-width="1"/>
<line x1="128.7" y1="657.5" x2="134.3" y2="657.5" stroke="#231f20" stroke-width="1"/>
<line x1="131.5" y1="654.7" x2="131.5" y2="660.3" stroke="#231f20" stroke-width="1"/>
<line x1="151.5" y1="657.5" x2="157.1" y2="657.5" stroke="#231f20" stroke-width="1"/>
<line x1="154.5" y1="654.7" x2="154.5" y2="660.3" stroke="#231f20" stroke-width="1"/>
<line x1="173.4" y1="657.5" x2="179" y2="657.5" stroke="#231f20" stroke-width="1"/>
<line x1="176.5" y1="654.7" x2="176.5" y2="660.3" stroke="#231f20" stroke-width="1"/>
<line x1="195.7" y1="657.5" x2="201.3" y2="657.5" stroke="#231f20" stroke-width="1"/>
<line x1="198.5" y1="654.7" x2="198.5" y2="660.3" stroke="#231f20" stroke-width="1"/>
<line x1="218.2" y1="657.5" x2="223.8" y2="657.5" stroke="#231f20" stroke-width="1"/>
<line x1="221.5" y1="654.7" x2="221.5" y2="660.3" stroke="#231f20" stroke-width="1"/>
<text x="63.3" y="672.08" font-size="10" text-anchor="end">14-3-3ζ</text>
<line x1="84.2" y1="669.5" x2="89.8" y2="669.5" stroke="#231f20" stroke-width="1"/>
<line x1="87.5" y1="666.7" x2="87.5" y2="672.3" stroke="#231f20" stroke-width="1"/>
<line x1="106.4" y1="669.5" x2="112" y2="669.5" stroke="#231f20" stroke-width="1"/>
<line x1="109.5" y1="666.7" x2="109.5" y2="672.3" stroke="#231f20" stroke-width="1"/>
<line x1="128.9" y1="669.5" x2="134.1" y2="669.5" stroke="#231f20" stroke-width="1"/>
<line x1="151.5" y1="669.5" x2="157.1" y2="669.5" stroke="#231f20" stroke-width="1"/>
<line x1="154.5" y1="666.7" x2="154.5" y2="672.3" stroke="#231f20" stroke-width="1"/>
<line x1="173.4" y1="669.5" x2="179" y2="669.5" stroke="#231f20" stroke-width="1"/>
<line x1="176.5" y1="666.7" x2="176.5" y2="672.3" stroke="#231f20" stroke-width="1"/>
<line x1="195.7" y1="669.5" x2="201.3" y2="669.5" stroke="#231f20" stroke-width="1"/>
<line x1="198.5" y1="666.7" x2="198.5" y2="672.3" stroke="#231f20" stroke-width="1"/>
<line x1="218.2" y1="669.5" x2="223.8" y2="669.5" stroke="#231f20" stroke-width="1"/>
<line x1="221.5" y1="666.7" x2="221.5" y2="672.3" stroke="#231f20" stroke-width="1"/>
<text x="63.3" y="683.62" font-size="10" text-anchor="end">DMSO</text>
<line x1="84.2" y1="680.5" x2="89.8" y2="680.5" stroke="#231f20" stroke-width="1"/>
<line x1="87.5" y1="677.7" x2="87.5" y2="683.3" stroke="#231f20" stroke-width="1"/>
<line x1="106.4" y1="680.5" x2="112" y2="680.5" stroke="#231f20" stroke-width="1"/>
<line x1="109.5" y1="677.7" x2="109.5" y2="683.3" stroke="#231f20" stroke-width="1"/>
<line x1="128.7" y1="680.5" x2="134.3" y2="680.5" stroke="#231f20" stroke-width="1"/>
<line x1="131.5" y1="677.7" x2="131.5" y2="683.3" stroke="#231f20" stroke-width="1"/>
<line x1="151.5" y1="680.5" x2="157.1" y2="680.5" stroke="#231f20" stroke-width="1"/>
<line x1="154.5" y1="677.7" x2="154.5" y2="683.3" stroke="#231f20" stroke-width="1"/>
<line x1="173.6" y1="680.5" x2="178.8" y2="680.5" stroke="#231f20" stroke-width="1"/>
<line x1="195.9" y1="680.5" x2="201.1" y2="680.5" stroke="#231f20" stroke-width="1"/>
<line x1="218.4" y1="680.5" x2="223.6" y2="680.5" stroke="#231f20" stroke-width="1"/>
<text x="63.3" y="695.16" font-size="10" text-anchor="end">KF7scr</text>
<line x1="84.4" y1="692.5" x2="89.6" y2="692.5" stroke="#231f20" stroke-width="1"/>
<line x1="106.6" y1="692.5" x2="111.8" y2="692.5" stroke="#231f20" stroke-width="1"/>
<line x1="128.9" y1="692.5" x2="134.1" y2="692.5" stroke="#231f20" stroke-width="1"/>
<line x1="151.7" y1="692.5" x2="156.9" y2="692.5" stroke="#231f20" stroke-width="1"/>
<line x1="173.4" y1="692.5" x2="179" y2="692.5" stroke="#231f20" stroke-width="1"/>
<line x1="176.5" y1="689.7" x2="176.5" y2="695.3" stroke="#231f20" stroke-width="1"/>
<line x1="195.9" y1="692.5" x2="201.1" y2="692.5" stroke="#231f20" stroke-width="1"/>
<line x1="218.4" y1="692.5" x2="223.6" y2="692.5" stroke="#231f20" stroke-width="1"/>
<text x="63.3" y="706.7" font-size="10" text-anchor="end">KF7</text>
<line x1="84.4" y1="703.5" x2="89.6" y2="703.5" stroke="#231f20" stroke-width="1"/>
<line x1="106.6" y1="703.5" x2="111.8" y2="703.5" stroke="#231f20" stroke-width="1"/>
<line x1="128.9" y1="703.5" x2="134.1" y2="703.5" stroke="#231f20" stroke-width="1"/>
<line x1="151.7" y1="703.5" x2="156.9" y2="703.5" stroke="#231f20" stroke-width="1"/>
<line x1="173.6" y1="703.5" x2="178.8" y2="703.5" stroke="#231f20" stroke-width="1"/>
<line x1="195.7" y1="703.5" x2="201.3" y2="703.5" stroke="#231f20" stroke-width="1"/>
<line x1="198.5" y1="700.7" x2="198.5" y2="706.3" stroke="#231f20" stroke-width="1"/>
<line x1="218.4" y1="703.5" x2="223.6" y2="703.5" stroke="#231f20" stroke-width="1"/>
<text x="63.3" y="718.24" font-size="10" text-anchor="end">THO</text>
<line x1="84.4" y1="715.5" x2="89.6" y2="715.5" stroke="#231f20" stroke-width="1"/>
<line x1="106.6" y1="715.5" x2="111.8" y2="715.5" stroke="#231f20" stroke-width="1"/>
<line x1="128.9" y1="715.5" x2="134.1" y2="715.5" stroke="#231f20" stroke-width="1"/>
<line x1="151.7" y1="715.5" x2="156.9" y2="715.5" stroke="#231f20" stroke-width="1"/>
<line x1="173.6" y1="715.5" x2="178.8" y2="715.5" stroke="#231f20" stroke-width="1"/>
<line x1="195.9" y1="715.5" x2="201.1" y2="715.5" stroke="#231f20" stroke-width="1"/>
<line x1="218.2" y1="715.5" x2="223.8" y2="715.5" stroke="#231f20" stroke-width="1"/>
<line x1="221.5" y1="712.7" x2="221.5" y2="718.3" stroke="#231f20" stroke-width="1"/>
<text x="277" y="392.5" font-size="15.6" font-weight="bold" stroke="#000" stroke-width="0.35">F</text>
<text x="320.75" y="412.5" font-size="10.3" textLength="25.5" lengthAdjust="spacingAndGlyphs">CTscr</text>
<text x="400.8" y="412.3" font-size="10.3" textLength="25.4" lengthAdjust="spacingAndGlyphs">β3CT</text>
<text x="481.2" y="412.3" font-size="10.3" textLength="18.2" lengthAdjust="spacingAndGlyphs">kDa</text>
<line x1="353" y1="418.2" x2="474" y2="418.2" stroke="#231f20" stroke-width="1.1"/>
<text x="316.5" y="432" font-size="10.3" text-anchor="end" textLength="19.5" lengthAdjust="spacingAndGlyphs">Line</text>
<text x="333.25" y="431.7" font-size="10.3" text-anchor="middle">1</text>
<text x="366.25" y="431.7" font-size="10.3" text-anchor="middle">2</text>
<text x="398.2" y="431.7" font-size="10.3" text-anchor="middle">3</text>
<text x="430.6" y="431.7" font-size="10.3" text-anchor="middle">4</text>
<text x="462.6" y="431.7" font-size="10.3" text-anchor="middle">5</text>
<rect x="320.1" y="436.3" width="162.2" height="51.7" fill="#050505"/>
<rect x="321.7" y="438" width="158.8" height="20.9" fill="url(#gF1)"/>
<rect x="321.7" y="462.4" width="158.8" height="24.1" fill="#dbdbdb"/>
<rect x="321.7" y="438" width="158.8" height="0.8" fill="#eeeeee"/>
<rect x="321.7" y="458" width="158.8" height="0.9" fill="#f0f0f0"/>
<rect x="321.7" y="462.4" width="158.8" height="0.9" fill="#f2f2f2"/>
<path d="M322 447.7 C330.69 446.4 342.86 446.4 356.76 446.4 L445.24 446.4 C459.14 446.4 471.31 446.4 480 447.7 C471.31 449 459.14 449 445.24 449 L356.76 449 C342.86 449 330.69 449 322 447.7 Z" fill="#000" fill-opacity="0.35" filter="url(#bl2)"/>
<path d="M322.5 447.7 C323.88 446.3 325.8 446.3 328 446.3 L342 446.3 C344.2 446.3 346.12 446.3 347.5 447.7 C346.12 449.1 344.2 449.1 342 449.1 L328 449.1 C325.8 449.1 323.88 449.1 322.5 447.7 Z" fill="#000" fill-opacity="0.95" filter="url(#bl)"/>
<path d="M355.5 447.7 C356.84 446.3 358.71 446.3 360.85 446.3 L374.45 446.3 C376.59 446.3 378.46 446.3 379.8 447.7 C378.46 449.1 376.59 449.1 374.45 449.1 L360.85 449.1 C358.71 449.1 356.84 449.1 355.5 447.7 Z" fill="#000" fill-opacity="0.95" filter="url(#bl)"/>
<path d="M387.9 447.7 C389.35 446.3 391.37 446.3 393.69 446.3 L408.41 446.3 C410.73 446.3 412.75 446.3 414.2 447.7 C412.75 449.1 410.73 449.1 408.41 449.1 L393.69 449.1 C391.37 449.1 389.35 449.1 387.9 447.7 Z" fill="#000" fill-opacity="0.95" filter="url(#bl)"/>
<path d="M421.3 447.7 C422.72 446.2 424.71 446.2 426.98 446.2 L441.42 446.2 C443.69 446.2 445.68 446.2 447.1 447.7 C445.68 449.2 443.69 449.2 441.42 449.2 L426.98 449.2 C424.71 449.2 422.72 449.2 421.3 447.7 Z" fill="#000" fill-opacity="0.95" filter="url(#bl)"/>
<path d="M452.4 447.7 C453.91 445.95 456.03 445.95 458.45 445.95 L473.85 445.95 C476.27 445.95 478.39 445.95 479.9 447.7 C478.39 449.45 476.27 449.45 473.85 449.45 L458.45 449.45 C456.03 449.45 453.91 449.45 452.4 447.7 Z" fill="#000" fill-opacity="0.95" filter="url(#bl)"/>
<path d="M355 474.9 C355.8 472.6 356.92 472.6 358.2 472.6 L369.6 472.6 C370.88 472.6 372 472.6 372.8 474.9 C372 477.2 370.88 477.2 369.6 477.2 L358.2 477.2 C356.92 477.2 355.8 477.2 355 474.9 Z" fill="#262626" fill-opacity="0.88" filter="url(#bl15)"/>
<path d="M388.5 474.9 C389.29 472.75 390.4 472.75 391.67 472.75 L402.93 472.75 C404.2 472.75 405.31 472.75 406.1 474.9 C405.31 477.05 404.2 477.05 402.93 477.05 L391.67 477.05 C390.4 477.05 389.29 477.05 388.5 474.9 Z" fill="#262626" fill-opacity="0.85" filter="url(#bl15)"/>
<path d="M423.2 474.9 C424.07 472.6 425.3 472.6 426.69 472.6 L439.11 472.6 C440.5 472.6 441.73 472.6 442.6 474.9 C441.73 477.2 440.5 477.2 439.11 477.2 L426.69 477.2 C425.3 477.2 424.07 477.2 423.2 474.9 Z" fill="#262626" fill-opacity="0.88" filter="url(#bl15)"/>
<path d="M456.1 474.9 C456.97 472.3 458.18 472.3 459.57 472.3 L471.93 472.3 C473.32 472.3 474.53 472.3 475.4 474.9 C474.53 477.5 473.32 477.5 471.93 477.5 L459.57 477.5 C458.18 477.5 456.97 477.5 456.1 474.9 Z" fill="#262626" fill-opacity="0.92" filter="url(#bl15)"/>
<text x="316.2" y="451.2" font-size="10.3" text-anchor="end" textLength="27.5" lengthAdjust="spacingAndGlyphs">Biotin</text>
<text x="316.2" y="477.6" font-size="10.3" text-anchor="end" textLength="23.4" lengthAdjust="spacingAndGlyphs">c-Src</text>
<line x1="482.3" y1="442.8" x2="485.8" y2="442.8" stroke="#231f20" stroke-width="1.2"/>
<text x="490.5" y="446.6" font-size="10.5" textLength="11.6" lengthAdjust="spacingAndGlyphs">10</text>
<line x1="482.3" y1="476.9" x2="485.8" y2="476.9" stroke="#231f20" stroke-width="1.2"/>
<text x="490.5" y="480.7" font-size="10.5" textLength="11.6" lengthAdjust="spacingAndGlyphs">70</text>
<line x1="319.6" y1="509.3" x2="319.6" y2="563" stroke="#231f20" stroke-width="1.2"/>
<line x1="319" y1="559.1" x2="479" y2="559.1" stroke="#231f20" stroke-width="1.3"/>
<line x1="316" y1="559.2" x2="319.6" y2="559.2" stroke="#231f20" stroke-width="1.2"/>
<text x="311.8" y="562.9" font-size="10.5" text-anchor="end">0</text>
<line x1="316" y1="536" x2="319.6" y2="536" stroke="#231f20" stroke-width="1.2"/>
<text x="311.8" y="539.7" font-size="10.5" text-anchor="end">0.5</text>
<line x1="316" y1="512.8" x2="319.6" y2="512.8" stroke="#231f20" stroke-width="1.2"/>
<text x="311.8" y="516.5" font-size="10.5" text-anchor="end">1.0</text>
<text x="290.3" y="534.45" font-size="11.3" text-anchor="middle" textLength="47.3" lengthAdjust="spacingAndGlyphs" transform="rotate(-90 290.3 534.45)" fill="#231f20">c-Src (fold)</text>
<rect x="351" y="515.2" width="23.6" height="43.9" fill="#a3002b"/>
<line x1="362.8" y1="515.7" x2="362.8" y2="511.7" stroke="#231f20" stroke-width="1.3"/>
<line x1="357" y1="511.7" x2="368.6" y2="511.7" stroke="#231f20" stroke-width="1.3"/>
<rect x="384.7" y="515.2" width="23.4" height="43.9" fill="#a3002b"/>
<line x1="396.4" y1="515.7" x2="396.4" y2="508" stroke="#231f20" stroke-width="1.3"/>
<line x1="390.6" y1="508" x2="402.2" y2="508" stroke="#231f20" stroke-width="1.3"/>
<rect x="418.5" y="517.2" width="23" height="41.9" fill="#a3002b"/>
<line x1="430" y1="517.7" x2="430" y2="512.9" stroke="#231f20" stroke-width="1.3"/>
<line x1="424.2" y1="512.9" x2="435.8" y2="512.9" stroke="#231f20" stroke-width="1.3"/>
<rect x="451.9" y="517.2" width="23.1" height="41.9" fill="#a3002b"/>
<line x1="463.45" y1="517.7" x2="463.45" y2="508.3" stroke="#231f20" stroke-width="1.3"/>
<line x1="457.65" y1="508.3" x2="469.25" y2="508.3" stroke="#231f20" stroke-width="1.3"/>
<text x="320.2" y="576.2" font-size="10" text-anchor="end">c-Src</text>
<line x1="333.1" y1="573.5" x2="338.7" y2="573.5" stroke="#231f20" stroke-width="1"/>
<line x1="335.5" y1="570.7" x2="335.5" y2="576.3" stroke="#231f20" stroke-width="1"/>
<line x1="359.5" y1="573.5" x2="365.1" y2="573.5" stroke="#231f20" stroke-width="1"/>
<line x1="362.5" y1="570.7" x2="362.5" y2="576.3" stroke="#231f20" stroke-width="1"/>
<line x1="392.8" y1="573.5" x2="398.4" y2="573.5" stroke="#231f20" stroke-width="1"/>
<line x1="395.5" y1="570.7" x2="395.5" y2="576.3" stroke="#231f20" stroke-width="1"/>
<line x1="427.2" y1="573.5" x2="432.8" y2="573.5" stroke="#231f20" stroke-width="1"/>
<line x1="430.5" y1="570.7" x2="430.5" y2="576.3" stroke="#231f20" stroke-width="1"/>
<line x1="460.7" y1="573.5" x2="466.3" y2="573.5" stroke="#231f20" stroke-width="1"/>
<line x1="463.5" y1="570.7" x2="463.5" y2="576.3" stroke="#231f20" stroke-width="1"/>
<text x="320.2" y="587.63" font-size="10" text-anchor="end">DMSO</text>
<line x1="333.1" y1="584.5" x2="338.7" y2="584.5" stroke="#231f20" stroke-width="1"/>
<line x1="335.5" y1="581.7" x2="335.5" y2="587.3" stroke="#231f20" stroke-width="1"/>
<line x1="359.7" y1="584.5" x2="364.9" y2="584.5" stroke="#231f20" stroke-width="1"/>
<line x1="393" y1="584.5" x2="398.2" y2="584.5" stroke="#231f20" stroke-width="1"/>
<line x1="427.2" y1="584.5" x2="432.8" y2="584.5" stroke="#231f20" stroke-width="1"/>
<line x1="430.5" y1="581.7" x2="430.5" y2="587.3" stroke="#231f20" stroke-width="1"/>
<line x1="460.9" y1="584.5" x2="466.1" y2="584.5" stroke="#231f20" stroke-width="1"/>
<text x="320.2" y="599.06" font-size="10" text-anchor="end">KF7scr</text>
<line x1="333.3" y1="596.5" x2="338.5" y2="596.5" stroke="#231f20" stroke-width="1"/>
<line x1="359.5" y1="596.5" x2="365.1" y2="596.5" stroke="#231f20" stroke-width="1"/>
<line x1="362.5" y1="593.7" x2="362.5" y2="599.3" stroke="#231f20" stroke-width="1"/>
<line x1="393" y1="596.5" x2="398.2" y2="596.5" stroke="#231f20" stroke-width="1"/>
<line x1="427.4" y1="596.5" x2="432.6" y2="596.5" stroke="#231f20" stroke-width="1"/>
<line x1="460.9" y1="596.5" x2="466.1" y2="596.5" stroke="#231f20" stroke-width="1"/>
<text x="320.2" y="610.49" font-size="10" text-anchor="end">KF7</text>
<line x1="333.3" y1="607.5" x2="338.5" y2="607.5" stroke="#231f20" stroke-width="1"/>
<line x1="359.7" y1="607.5" x2="364.9" y2="607.5" stroke="#231f20" stroke-width="1"/>
<line x1="392.8" y1="607.5" x2="398.4" y2="607.5" stroke="#231f20" stroke-width="1"/>
<line x1="395.5" y1="604.7" x2="395.5" y2="610.3" stroke="#231f20" stroke-width="1"/>
<line x1="427.4" y1="607.5" x2="432.6" y2="607.5" stroke="#231f20" stroke-width="1"/>
<line x1="460.9" y1="607.5" x2="466.1" y2="607.5" stroke="#231f20" stroke-width="1"/>
<text x="320.2" y="621.92" font-size="10" text-anchor="end">THO</text>
<line x1="333.3" y1="619.5" x2="338.5" y2="619.5" stroke="#231f20" stroke-width="1"/>
<line x1="359.7" y1="619.5" x2="364.9" y2="619.5" stroke="#231f20" stroke-width="1"/>
<line x1="393" y1="619.5" x2="398.2" y2="619.5" stroke="#231f20" stroke-width="1"/>
<line x1="427.4" y1="619.5" x2="432.6" y2="619.5" stroke="#231f20" stroke-width="1"/>
<line x1="460.7" y1="619.5" x2="466.3" y2="619.5" stroke="#231f20" stroke-width="1"/>
<line x1="463.5" y1="616.7" x2="463.5" y2="622.3" stroke="#231f20" stroke-width="1"/>
<line x1="71.3" y1="41.5" x2="71.3" y2="146.7" stroke="#231f20" stroke-width="1.3"/>
<line x1="70.7" y1="146.1" x2="194.8" y2="146.1" stroke="#231f20" stroke-width="1.3"/>
<line x1="67.3" y1="146.1" x2="71.3" y2="146.1" stroke="#231f20" stroke-width="1.2"/>
<text x="62.8" y="149.8" font-size="10.3" text-anchor="end">0</text>
<line x1="67.3" y1="125.4" x2="71.3" y2="125.4" stroke="#231f20" stroke-width="1.2"/>
<text x="62.8" y="129.1" font-size="10.3" text-anchor="end">50</text>
<line x1="67.3" y1="105.5" x2="71.3" y2="105.5" stroke="#231f20" stroke-width="1.2"/>
<text x="62.8" y="109.2" font-size="10.3" text-anchor="end">100</text>
<line x1="67.3" y1="85.2" x2="71.3" y2="85.2" stroke="#231f20" stroke-width="1.2"/>
<text x="62.8" y="88.9" font-size="10.3" text-anchor="end">150</text>
<line x1="67.3" y1="65.2" x2="71.3" y2="65.2" stroke="#231f20" stroke-width="1.2"/>
<text x="62.8" y="68.9" font-size="10.3" text-anchor="end">200</text>
<line x1="67.3" y1="45.5" x2="71.3" y2="45.5" stroke="#231f20" stroke-width="1.2"/>
<text x="62.8" y="49.2" font-size="10.3" text-anchor="end">250</text>
<line x1="71.5" y1="146.1" x2="71.5" y2="149.7" stroke="#231f20" stroke-width="1.2"/>
<text x="71.5" y="162.7" font-size="10.3" text-anchor="middle">0</text>
<line x1="101.62" y1="146.1" x2="101.62" y2="149.7" stroke="#231f20" stroke-width="1.2"/>
<text x="101.62" y="162.7" font-size="10.3" text-anchor="middle">50</text>
<line x1="131.75" y1="146.1" x2="131.75" y2="149.7" stroke="#231f20" stroke-width="1.2"/>
<text x="131.75" y="162.7" font-size="10.3" text-anchor="middle">100</text>
<line x1="161.88" y1="146.1" x2="161.88" y2="149.7" stroke="#231f20" stroke-width="1.2"/>
<text x="161.88" y="162.7" font-size="10.3" text-anchor="middle">150</text>
<line x1="192" y1="146.1" x2="192" y2="149.7" stroke="#231f20" stroke-width="1.2"/>
<text x="192" y="162.7" font-size="10.3" text-anchor="middle">200</text>
<line x1="320" y1="50" x2="320" y2="146.7" stroke="#231f20" stroke-width="1.3"/>
<line x1="319.4" y1="146.1" x2="449.2" y2="146.1" stroke="#231f20" stroke-width="1.3"/>
<line x1="316" y1="146.1" x2="320" y2="146.1" stroke="#231f20" stroke-width="1.2"/>
<text x="311.5" y="149.8" font-size="10.3" text-anchor="end">0</text>
<line x1="316" y1="115.3" x2="320" y2="115.3" stroke="#231f20" stroke-width="1.2"/>
<text x="311.5" y="119" font-size="10.3" text-anchor="end">50</text>
<line x1="316" y1="84.5" x2="320" y2="84.5" stroke="#231f20" stroke-width="1.2"/>
<text x="311.5" y="88.2" font-size="10.3" text-anchor="end">100</text>
<line x1="316" y1="53.7" x2="320" y2="53.7" stroke="#231f20" stroke-width="1.2"/>
<text x="311.5" y="57.4" font-size="10.3" text-anchor="end">150</text>
<line x1="320" y1="146.1" x2="320" y2="149.7" stroke="#231f20" stroke-width="1.2"/>
<text x="320" y="162.8" font-size="10.3" text-anchor="middle">0</text>
<line x1="350.62" y1="146.1" x2="350.62" y2="149.7" stroke="#231f20" stroke-width="1.2"/>
<text x="350.62" y="162.8" font-size="10.3" text-anchor="middle">50</text>
<line x1="381.25" y1="146.1" x2="381.25" y2="149.7" stroke="#231f20" stroke-width="1.2"/>
<text x="381.25" y="162.8" font-size="10.3" text-anchor="middle">100</text>
<line x1="411.88" y1="146.1" x2="411.88" y2="149.7" stroke="#231f20" stroke-width="1.2"/>
<text x="411.88" y="162.8" font-size="10.3" text-anchor="middle">150</text>
<line x1="442.5" y1="146.1" x2="442.5" y2="149.7" stroke="#231f20" stroke-width="1.2"/>
<text x="442.5" y="162.8" font-size="10.3" text-anchor="middle">200</text>
<line x1="71.5" y1="231.7" x2="71.5" y2="330.2" stroke="#231f20" stroke-width="1.3"/>
<line x1="70.9" y1="329.6" x2="203" y2="329.6" stroke="#231f20" stroke-width="1.3"/>
<line x1="67.5" y1="329.6" x2="71.5" y2="329.6" stroke="#231f20" stroke-width="1.2"/>
<text x="63.4" y="333.3" font-size="10.3" text-anchor="end">0</text>
<line x1="67.5" y1="298.2" x2="71.5" y2="298.2" stroke="#231f20" stroke-width="1.2"/>
<text x="63.4" y="301.9" font-size="10.3" text-anchor="end">10</text>
<line x1="67.5" y1="266.8" x2="71.5" y2="266.8" stroke="#231f20" stroke-width="1.2"/>
<text x="63.4" y="270.5" font-size="10.3" text-anchor="end">20</text>
<line x1="67.5" y1="235.4" x2="71.5" y2="235.4" stroke="#231f20" stroke-width="1.2"/>
<text x="63.4" y="239.1" font-size="10.3" text-anchor="end">30</text>
<line x1="71.5" y1="329.6" x2="71.5" y2="333.2" stroke="#231f20" stroke-width="1.2"/>
<text x="71.5" y="346.7" font-size="10.3" text-anchor="middle">0</text>
<line x1="103.45" y1="329.6" x2="103.45" y2="333.2" stroke="#231f20" stroke-width="1.2"/>
<text x="103.45" y="346.7" font-size="10.3" text-anchor="middle">50</text>
<line x1="135.4" y1="329.6" x2="135.4" y2="333.2" stroke="#231f20" stroke-width="1.2"/>
<text x="135.4" y="346.7" font-size="10.3" text-anchor="middle">100</text>
<line x1="167.35" y1="329.6" x2="167.35" y2="333.2" stroke="#231f20" stroke-width="1.2"/>
<text x="167.35" y="346.7" font-size="10.3" text-anchor="middle">150</text>
<line x1="199.3" y1="329.6" x2="199.3" y2="333.2" stroke="#231f20" stroke-width="1.2"/>
<text x="199.3" y="346.7" font-size="10.3" text-anchor="middle">200</text>
<line x1="319.8" y1="228.75" x2="319.8" y2="330.2" stroke="#231f20" stroke-width="1.3"/>
<line x1="319.2" y1="329.6" x2="454.5" y2="329.6" stroke="#231f20" stroke-width="1.3"/>
<line x1="315.8" y1="329.6" x2="319.8" y2="329.6" stroke="#231f20" stroke-width="1.2"/>
<text x="311.5" y="333.3" font-size="10.3" text-anchor="end">0</text>
<line x1="315.8" y1="296.85" x2="319.8" y2="296.85" stroke="#231f20" stroke-width="1.2"/>
<text x="311.5" y="300.55" font-size="10.3" text-anchor="end">100</text>
<line x1="315.8" y1="264.1" x2="319.8" y2="264.1" stroke="#231f20" stroke-width="1.2"/>
<text x="311.5" y="267.8" font-size="10.3" text-anchor="end">200</text>
<line x1="315.8" y1="231.35" x2="319.8" y2="231.35" stroke="#231f20" stroke-width="1.2"/>
<text x="311.5" y="235.05" font-size="10.3" text-anchor="end">300</text>
<line x1="319.8" y1="329.6" x2="319.8" y2="333.2" stroke="#231f20" stroke-width="1.2"/>
<text x="319.8" y="346.5" font-size="10.3" text-anchor="middle">0</text>
<line x1="350.6" y1="329.6" x2="350.6" y2="333.2" stroke="#231f20" stroke-width="1.2"/>
<text x="350.6" y="346.5" font-size="10.3" text-anchor="middle">50</text>
<line x1="381.4" y1="329.6" x2="381.4" y2="333.2" stroke="#231f20" stroke-width="1.2"/>
<text x="381.4" y="346.5" font-size="10.3" text-anchor="middle">100</text>
<line x1="412.2" y1="329.6" x2="412.2" y2="333.2" stroke="#231f20" stroke-width="1.2"/>
<text x="412.2" y="346.5" font-size="10.3" text-anchor="middle">150</text>
<line x1="443" y1="329.6" x2="443" y2="333.2" stroke="#231f20" stroke-width="1.2"/>
<text x="443" y="346.5" font-size="10.3" text-anchor="middle">200</text>
<rect x="0" y="0" width="520" height="1.5" fill="#000"/>
<rect x="0" y="0" width="1.45" height="729" fill="#000"/>
<rect x="518.5" y="0" width="1.5" height="729" fill="#000"/>
<rect x="0" y="727.5" width="520" height="1.5" fill="#000"/>
</svg>
</body></html>
